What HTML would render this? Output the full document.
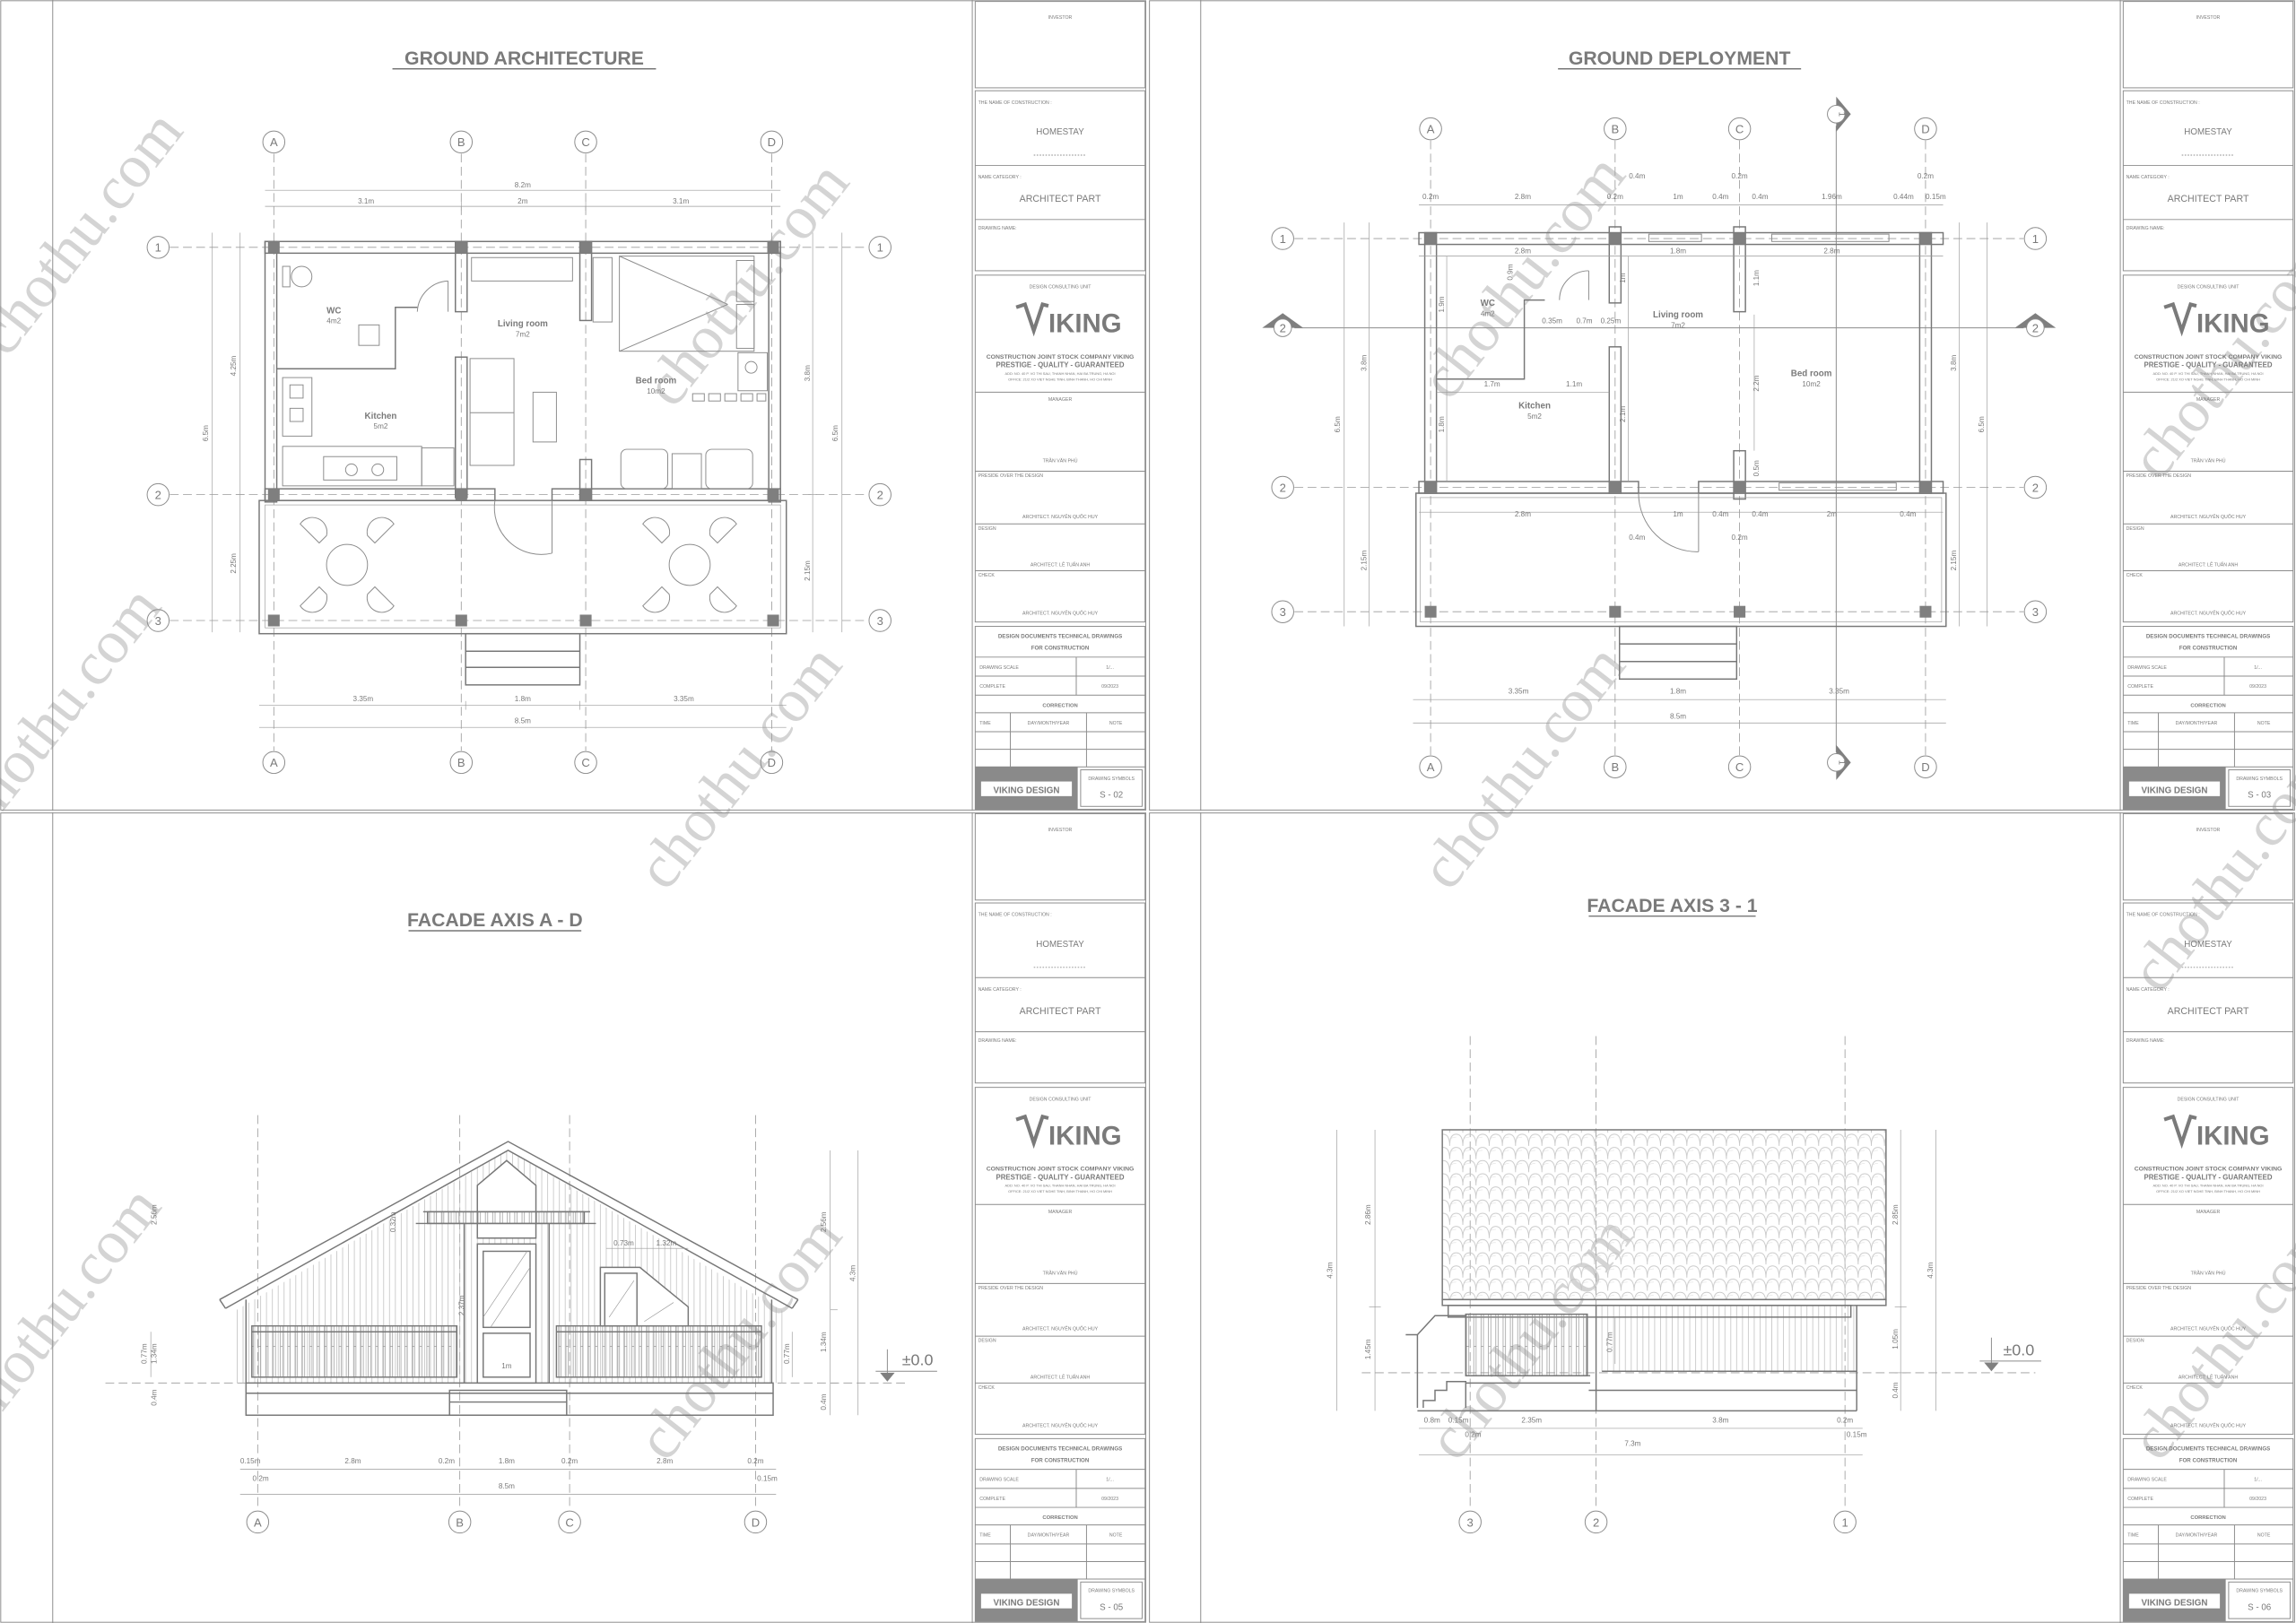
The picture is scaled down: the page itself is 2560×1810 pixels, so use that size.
<!DOCTYPE html>
<html><head><meta charset="utf-8">
<style>
html,body{margin:0;padding:0;background:#fff;}
svg{display:block;}
text{font-family:"Liberation Sans","Noto Sans CJK SC",sans-serif;fill:#7a7a7a;}
.l{stroke:#8c8c8c;stroke-width:.6;fill:none;}
.t{stroke:#9a9a9a;stroke-width:.4;fill:none;}
.k{stroke:#777;stroke-width:.9;fill:none;}
.d{stroke:#9a9a9a;stroke-width:.5;fill:none;stroke-dasharray:6 3;}
.c{fill:#7f7f7f;}
.m{text-anchor:middle;}
.dim{font-size:5px;text-anchor:middle;}
.wm text{font-family:"Liberation Serif",serif;font-size:42px;fill:#d4d4d4;}
.tb{font-size:3.2px;}
</style></head><body>
<svg width="2560" height="1810" viewBox="0 0 1568 1109" preserveAspectRatio="none" xmlns="http://www.w3.org/2000/svg">
<defs>
<pattern id="sid" width="4" height="10" patternUnits="userSpaceOnUse"><line x1="2" y1="0" x2="2" y2="10" stroke="#b5b5b5" stroke-width=".4"/></pattern>
<pattern id="bal" width="5" height="40" patternUnits="userSpaceOnUse"><rect x="1.5" y="0" width="1.6" height="40" fill="none" stroke="#8c8c8c" stroke-width=".4"/></pattern>
<pattern id="tile" width="9" height="9" patternUnits="userSpaceOnUse"><path d="M0 9 Q0 1 4.5 1 Q9 1 9 9" fill="none" stroke="#c4c4c4" stroke-width=".5"/><path d="M0 6 Q0 3 4.5 3" fill="none" stroke="#d8d8d8" stroke-width=".3"/></pattern>
</defs>
<rect width="1568" height="1109" fill="#fff"/>

<!-- watermarks (behind) -->
<g class="wm">
<text transform="translate(5,245) rotate(-52)">chothu.com</text>
<text transform="translate(460,280) rotate(-52)">chothu.com</text>
<text transform="translate(-10,570) rotate(-52)">chothu.com</text>
<text transform="translate(455,610) rotate(-52)">chothu.com</text>
<text transform="translate(990,275) rotate(-52)">chothu.com</text>
<text transform="translate(990,610) rotate(-52)">chothu.com</text>
<text transform="translate(1475,330) rotate(-52)">chothu.com</text>
<text transform="translate(-10,980) rotate(-52)">chothu.com</text>
<text transform="translate(455,1000) rotate(-52)">chothu.com</text>
<text transform="translate(995,1000) rotate(-52)">chothu.com</text>
<text transform="translate(1475,680) rotate(-52)">chothu.com</text>
<text transform="translate(1475,1000) rotate(-52)">chothu.com</text>
</g>

<!-- sheet frames -->
<g class="l">
<rect x="0.5" y="0.5" width="782" height="553"/>
<rect x="785" y="0.5" width="782" height="553"/>
<rect x="0.5" y="555.5" width="782" height="553"/>
<rect x="785" y="555.5" width="782" height="553"/>
<line x1="36" y1="0" x2="36" y2="554"/><line x1="820" y1="0" x2="820" y2="554"/>
<line x1="36" y1="555" x2="36" y2="1109"/><line x1="820" y1="555" x2="820" y2="1109"/>
<line x1="664" y1="0" x2="664" y2="554"/><line x1="1448" y1="0" x2="1448" y2="554"/>
<line x1="664" y1="555" x2="664" y2="1109"/><line x1="1448" y1="555" x2="1448" y2="1109"/>
</g>

<!-- ========== TITLE BLOCKS ========== -->
<g id="tb1">
<g class="l"><rect x="666" y="1" width="116" height="59"/><rect x="666" y="62" width="116" height="123"/><line x1="666" y1="113" x2="782" y2="113"/><line x1="666" y1="150" x2="782" y2="150"/>
<rect x="666" y="188" width="116" height="237"/><line x1="666" y1="268" x2="782" y2="268"/><line x1="666" y1="322" x2="782" y2="322"/><line x1="666" y1="358" x2="782" y2="358"/><line x1="666" y1="390" x2="782" y2="390"/>
<rect x="666" y="428" width="116" height="125"/><line x1="666" y1="449" x2="782" y2="449"/><line x1="666" y1="462" x2="782" y2="462"/><line x1="666" y1="475" x2="782" y2="475"/><line x1="666" y1="487" x2="782" y2="487"/><line x1="666" y1="500" x2="782" y2="500"/><line x1="666" y1="512" x2="782" y2="512"/><line x1="666" y1="524" x2="782" y2="524"/><line x1="735" y1="449" x2="735" y2="475"/><line x1="690" y1="487" x2="690" y2="524"/><line x1="742" y1="487" x2="742" y2="524"/><rect x="738" y="526" width="42" height="25"/><line x1="706" y1="106" x2="742" y2="106" stroke-dasharray="1 1"/></g>
<rect x="666" y="524" width="70" height="29" fill="#8a8a8a"/><rect x="670" y="534" width="62" height="10" fill="#fff"/>
<text x="724" y="13" class="m tb">INVESTOR</text>
<text x="668" y="71" class="tb">THE NAME OF CONSTRUCTION :</text>
<text x="724" y="92" class="m" style="font-size:6px">HOMESTAY</text>
<text x="668" y="122" class="tb">NAME CATEGORY :</text>
<text x="724" y="138" class="m" style="font-size:6.5px">ARCHITECT PART</text>
<text x="668" y="157" class="tb">DRAWING NAME:</text>
<text x="724" y="197" class="m tb">DESIGN CONSULTING UNIT</text>
<path d="M694 210 L700 208 L706 226 L712 208 L716 209" fill="none" stroke="#7a7a7a" stroke-width="2.5"/>
<text x="716" y="227" style="font-size:18px;font-weight:bold;fill:#7a7a7a">IKING</text>
<text x="724" y="245" class="m" style="font-size:4.2px;font-weight:bold">CONSTRUCTION JOINT STOCK COMPANY VIKING</text>
<text x="724" y="251" class="m" style="font-size:4.8px;font-weight:bold">PRESTIGE - QUALITY - GUARANTEED</text>
<text x="724" y="256" class="m" style="font-size:2.4px">ADD: NO. 40 P. VO THI SAU, THANH NHAN, HAI BA TRUNG, HA NOI</text>
<text x="724" y="260" class="m" style="font-size:2.4px">OFFICE: 21/2 XO VIET NGHE TINH, BINH THANH, HO CHI MINH</text>
<text x="724" y="274" class="m tb">MANAGER</text>
<text x="724" y="316" class="m tb">TRẦN VĂN PHÚ</text>
<text x="668" y="326" class="tb">PRESIDE OVER THE DESIGN</text>
<text x="724" y="354" class="m tb">ARCHITECT. NGUYỄN QUỐC HUY</text>
<text x="668" y="362" class="tb">DESIGN</text>
<text x="724" y="387" class="m tb">ARCHITECT: LÊ TUẤN ANH</text>
<text x="668" y="394" class="tb">CHECK</text>
<text x="724" y="420" class="m tb">ARCHITECT. NGUYỄN QUỐC HUY</text>
<text x="724" y="436" class="m" style="font-size:3.8px;font-weight:bold">DESIGN DOCUMENTS TECHNICAL DRAWINGS</text>
<text x="724" y="444" class="m" style="font-size:3.8px;font-weight:bold">FOR CONSTRUCTION</text>
<text x="669" y="457" class="tb">DRAWING SCALE</text><text x="758" y="457" class="m tb">1/...</text>
<text x="669" y="470" class="tb">COMPLETE</text><text x="758" y="470" class="m tb">09/2023</text>
<text x="724" y="483" class="m" style="font-size:3.6px;font-weight:bold">CORRECTION</text>
<text x="669" y="495" class="tb">TIME</text><text x="716" y="495" class="m tb">DAY/MONTH/YEAR</text><text x="762" y="495" class="m tb">NOTE</text>
<text x="701" y="542" class="m" style="font-size:6px;font-weight:bold">VIKING DESIGN</text>
<text x="759" y="533" class="m tb">DRAWING SYMBOLS</text>
<text x="759" y="545" class="m" style="font-size:6px">S - 02</text>
</g>

<g transform="translate(784,0)">
<g class="l"><rect x="666" y="1" width="116" height="59"/><rect x="666" y="62" width="116" height="123"/><line x1="666" y1="113" x2="782" y2="113"/><line x1="666" y1="150" x2="782" y2="150"/>
<rect x="666" y="188" width="116" height="237"/><line x1="666" y1="268" x2="782" y2="268"/><line x1="666" y1="322" x2="782" y2="322"/><line x1="666" y1="358" x2="782" y2="358"/><line x1="666" y1="390" x2="782" y2="390"/>
<rect x="666" y="428" width="116" height="125"/><line x1="666" y1="449" x2="782" y2="449"/><line x1="666" y1="462" x2="782" y2="462"/><line x1="666" y1="475" x2="782" y2="475"/><line x1="666" y1="487" x2="782" y2="487"/><line x1="666" y1="500" x2="782" y2="500"/><line x1="666" y1="512" x2="782" y2="512"/><line x1="666" y1="524" x2="782" y2="524"/><line x1="735" y1="449" x2="735" y2="475"/><line x1="690" y1="487" x2="690" y2="524"/><line x1="742" y1="487" x2="742" y2="524"/><rect x="738" y="526" width="42" height="25"/><line x1="706" y1="106" x2="742" y2="106" stroke-dasharray="1 1"/></g>
<rect x="666" y="524" width="70" height="29" fill="#8a8a8a"/><rect x="670" y="534" width="62" height="10" fill="#fff"/>
<text x="724" y="13" class="m tb">INVESTOR</text>
<text x="668" y="71" class="tb">THE NAME OF CONSTRUCTION :</text>
<text x="724" y="92" class="m" style="font-size:6px">HOMESTAY</text>
<text x="668" y="122" class="tb">NAME CATEGORY :</text>
<text x="724" y="138" class="m" style="font-size:6.5px">ARCHITECT PART</text>
<text x="668" y="157" class="tb">DRAWING NAME:</text>
<text x="724" y="197" class="m tb">DESIGN CONSULTING UNIT</text>
<path d="M694 210 L700 208 L706 226 L712 208 L716 209" fill="none" stroke="#7a7a7a" stroke-width="2.5"/>
<text x="716" y="227" style="font-size:18px;font-weight:bold;fill:#7a7a7a">IKING</text>
<text x="724" y="245" class="m" style="font-size:4.2px;font-weight:bold">CONSTRUCTION JOINT STOCK COMPANY VIKING</text>
<text x="724" y="251" class="m" style="font-size:4.8px;font-weight:bold">PRESTIGE - QUALITY - GUARANTEED</text>
<text x="724" y="256" class="m" style="font-size:2.4px">ADD: NO. 40 P. VO THI SAU, THANH NHAN, HAI BA TRUNG, HA NOI</text>
<text x="724" y="260" class="m" style="font-size:2.4px">OFFICE: 21/2 XO VIET NGHE TINH, BINH THANH, HO CHI MINH</text>
<text x="724" y="274" class="m tb">MANAGER</text>
<text x="724" y="316" class="m tb">TRẦN VĂN PHÚ</text>
<text x="668" y="326" class="tb">PRESIDE OVER THE DESIGN</text>
<text x="724" y="354" class="m tb">ARCHITECT. NGUYỄN QUỐC HUY</text>
<text x="668" y="362" class="tb">DESIGN</text>
<text x="724" y="387" class="m tb">ARCHITECT: LÊ TUẤN ANH</text>
<text x="668" y="394" class="tb">CHECK</text>
<text x="724" y="420" class="m tb">ARCHITECT. NGUYỄN QUỐC HUY</text>
<text x="724" y="436" class="m" style="font-size:3.8px;font-weight:bold">DESIGN DOCUMENTS TECHNICAL DRAWINGS</text>
<text x="724" y="444" class="m" style="font-size:3.8px;font-weight:bold">FOR CONSTRUCTION</text>
<text x="669" y="457" class="tb">DRAWING SCALE</text><text x="758" y="457" class="m tb">1/...</text>
<text x="669" y="470" class="tb">COMPLETE</text><text x="758" y="470" class="m tb">09/2023</text>
<text x="724" y="483" class="m" style="font-size:3.6px;font-weight:bold">CORRECTION</text>
<text x="669" y="495" class="tb">TIME</text><text x="716" y="495" class="m tb">DAY/MONTH/YEAR</text><text x="762" y="495" class="m tb">NOTE</text>
<text x="701" y="542" class="m" style="font-size:6px;font-weight:bold">VIKING DESIGN</text>
<text x="759" y="533" class="m tb">DRAWING SYMBOLS</text>
<text x="759" y="545" class="m" style="font-size:6px">S - 03</text>
</g>

<g transform="translate(0,555)">
<g class="l"><rect x="666" y="1" width="116" height="59"/><rect x="666" y="62" width="116" height="123"/><line x1="666" y1="113" x2="782" y2="113"/><line x1="666" y1="150" x2="782" y2="150"/>
<rect x="666" y="188" width="116" height="237"/><line x1="666" y1="268" x2="782" y2="268"/><line x1="666" y1="322" x2="782" y2="322"/><line x1="666" y1="358" x2="782" y2="358"/><line x1="666" y1="390" x2="782" y2="390"/>
<rect x="666" y="428" width="116" height="125"/><line x1="666" y1="449" x2="782" y2="449"/><line x1="666" y1="462" x2="782" y2="462"/><line x1="666" y1="475" x2="782" y2="475"/><line x1="666" y1="487" x2="782" y2="487"/><line x1="666" y1="500" x2="782" y2="500"/><line x1="666" y1="512" x2="782" y2="512"/><line x1="666" y1="524" x2="782" y2="524"/><line x1="735" y1="449" x2="735" y2="475"/><line x1="690" y1="487" x2="690" y2="524"/><line x1="742" y1="487" x2="742" y2="524"/><rect x="738" y="526" width="42" height="25"/><line x1="706" y1="106" x2="742" y2="106" stroke-dasharray="1 1"/></g>
<rect x="666" y="524" width="70" height="29" fill="#8a8a8a"/><rect x="670" y="534" width="62" height="10" fill="#fff"/>
<text x="724" y="13" class="m tb">INVESTOR</text>
<text x="668" y="71" class="tb">THE NAME OF CONSTRUCTION :</text>
<text x="724" y="92" class="m" style="font-size:6px">HOMESTAY</text>
<text x="668" y="122" class="tb">NAME CATEGORY :</text>
<text x="724" y="138" class="m" style="font-size:6.5px">ARCHITECT PART</text>
<text x="668" y="157" class="tb">DRAWING NAME:</text>
<text x="724" y="197" class="m tb">DESIGN CONSULTING UNIT</text>
<path d="M694 210 L700 208 L706 226 L712 208 L716 209" fill="none" stroke="#7a7a7a" stroke-width="2.5"/>
<text x="716" y="227" style="font-size:18px;font-weight:bold;fill:#7a7a7a">IKING</text>
<text x="724" y="245" class="m" style="font-size:4.2px;font-weight:bold">CONSTRUCTION JOINT STOCK COMPANY VIKING</text>
<text x="724" y="251" class="m" style="font-size:4.8px;font-weight:bold">PRESTIGE - QUALITY - GUARANTEED</text>
<text x="724" y="256" class="m" style="font-size:2.4px">ADD: NO. 40 P. VO THI SAU, THANH NHAN, HAI BA TRUNG, HA NOI</text>
<text x="724" y="260" class="m" style="font-size:2.4px">OFFICE: 21/2 XO VIET NGHE TINH, BINH THANH, HO CHI MINH</text>
<text x="724" y="274" class="m tb">MANAGER</text>
<text x="724" y="316" class="m tb">TRẦN VĂN PHÚ</text>
<text x="668" y="326" class="tb">PRESIDE OVER THE DESIGN</text>
<text x="724" y="354" class="m tb">ARCHITECT. NGUYỄN QUỐC HUY</text>
<text x="668" y="362" class="tb">DESIGN</text>
<text x="724" y="387" class="m tb">ARCHITECT: LÊ TUẤN ANH</text>
<text x="668" y="394" class="tb">CHECK</text>
<text x="724" y="420" class="m tb">ARCHITECT. NGUYỄN QUỐC HUY</text>
<text x="724" y="436" class="m" style="font-size:3.8px;font-weight:bold">DESIGN DOCUMENTS TECHNICAL DRAWINGS</text>
<text x="724" y="444" class="m" style="font-size:3.8px;font-weight:bold">FOR CONSTRUCTION</text>
<text x="669" y="457" class="tb">DRAWING SCALE</text><text x="758" y="457" class="m tb">1/...</text>
<text x="669" y="470" class="tb">COMPLETE</text><text x="758" y="470" class="m tb">09/2023</text>
<text x="724" y="483" class="m" style="font-size:3.6px;font-weight:bold">CORRECTION</text>
<text x="669" y="495" class="tb">TIME</text><text x="716" y="495" class="m tb">DAY/MONTH/YEAR</text><text x="762" y="495" class="m tb">NOTE</text>
<text x="701" y="542" class="m" style="font-size:6px;font-weight:bold">VIKING DESIGN</text>
<text x="759" y="533" class="m tb">DRAWING SYMBOLS</text>
<text x="759" y="545" class="m" style="font-size:6px">S - 05</text>
</g>

<g transform="translate(784,555)">
<g class="l"><rect x="666" y="1" width="116" height="59"/><rect x="666" y="62" width="116" height="123"/><line x1="666" y1="113" x2="782" y2="113"/><line x1="666" y1="150" x2="782" y2="150"/>
<rect x="666" y="188" width="116" height="237"/><line x1="666" y1="268" x2="782" y2="268"/><line x1="666" y1="322" x2="782" y2="322"/><line x1="666" y1="358" x2="782" y2="358"/><line x1="666" y1="390" x2="782" y2="390"/>
<rect x="666" y="428" width="116" height="125"/><line x1="666" y1="449" x2="782" y2="449"/><line x1="666" y1="462" x2="782" y2="462"/><line x1="666" y1="475" x2="782" y2="475"/><line x1="666" y1="487" x2="782" y2="487"/><line x1="666" y1="500" x2="782" y2="500"/><line x1="666" y1="512" x2="782" y2="512"/><line x1="666" y1="524" x2="782" y2="524"/><line x1="735" y1="449" x2="735" y2="475"/><line x1="690" y1="487" x2="690" y2="524"/><line x1="742" y1="487" x2="742" y2="524"/><rect x="738" y="526" width="42" height="25"/><line x1="706" y1="106" x2="742" y2="106" stroke-dasharray="1 1"/></g>
<rect x="666" y="524" width="70" height="29" fill="#8a8a8a"/><rect x="670" y="534" width="62" height="10" fill="#fff"/>
<text x="724" y="13" class="m tb">INVESTOR</text>
<text x="668" y="71" class="tb">THE NAME OF CONSTRUCTION :</text>
<text x="724" y="92" class="m" style="font-size:6px">HOMESTAY</text>
<text x="668" y="122" class="tb">NAME CATEGORY :</text>
<text x="724" y="138" class="m" style="font-size:6.5px">ARCHITECT PART</text>
<text x="668" y="157" class="tb">DRAWING NAME:</text>
<text x="724" y="197" class="m tb">DESIGN CONSULTING UNIT</text>
<path d="M694 210 L700 208 L706 226 L712 208 L716 209" fill="none" stroke="#7a7a7a" stroke-width="2.5"/>
<text x="716" y="227" style="font-size:18px;font-weight:bold;fill:#7a7a7a">IKING</text>
<text x="724" y="245" class="m" style="font-size:4.2px;font-weight:bold">CONSTRUCTION JOINT STOCK COMPANY VIKING</text>
<text x="724" y="251" class="m" style="font-size:4.8px;font-weight:bold">PRESTIGE - QUALITY - GUARANTEED</text>
<text x="724" y="256" class="m" style="font-size:2.4px">ADD: NO. 40 P. VO THI SAU, THANH NHAN, HAI BA TRUNG, HA NOI</text>
<text x="724" y="260" class="m" style="font-size:2.4px">OFFICE: 21/2 XO VIET NGHE TINH, BINH THANH, HO CHI MINH</text>
<text x="724" y="274" class="m tb">MANAGER</text>
<text x="724" y="316" class="m tb">TRẦN VĂN PHÚ</text>
<text x="668" y="326" class="tb">PRESIDE OVER THE DESIGN</text>
<text x="724" y="354" class="m tb">ARCHITECT. NGUYỄN QUỐC HUY</text>
<text x="668" y="362" class="tb">DESIGN</text>
<text x="724" y="387" class="m tb">ARCHITECT: LÊ TUẤN ANH</text>
<text x="668" y="394" class="tb">CHECK</text>
<text x="724" y="420" class="m tb">ARCHITECT. NGUYỄN QUỐC HUY</text>
<text x="724" y="436" class="m" style="font-size:3.8px;font-weight:bold">DESIGN DOCUMENTS TECHNICAL DRAWINGS</text>
<text x="724" y="444" class="m" style="font-size:3.8px;font-weight:bold">FOR CONSTRUCTION</text>
<text x="669" y="457" class="tb">DRAWING SCALE</text><text x="758" y="457" class="m tb">1/...</text>
<text x="669" y="470" class="tb">COMPLETE</text><text x="758" y="470" class="m tb">09/2023</text>
<text x="724" y="483" class="m" style="font-size:3.6px;font-weight:bold">CORRECTION</text>
<text x="669" y="495" class="tb">TIME</text><text x="716" y="495" class="m tb">DAY/MONTH/YEAR</text><text x="762" y="495" class="m tb">NOTE</text>
<text x="701" y="542" class="m" style="font-size:6px;font-weight:bold">VIKING DESIGN</text>
<text x="759" y="533" class="m tb">DRAWING SYMBOLS</text>
<text x="759" y="545" class="m" style="font-size:6px">S - 06</text>
</g>

<!-- ========== GROUND ARCHITECTURE ========== -->
<text x="358" y="44" class="m" style="font-size:13px;font-weight:bold">GROUND ARCHITECTURE</text>
<line x1="268" y1="47" x2="448" y2="47" class="k"/>
<g class="d">
<line x1="187" y1="105" x2="187" y2="513"/><line x1="315" y1="105" x2="315" y2="513"/><line x1="400" y1="105" x2="400" y2="513"/><line x1="527" y1="105" x2="527" y2="513"/>
<line x1="116" y1="169" x2="593" y2="169"/><line x1="116" y1="338" x2="593" y2="338"/><line x1="116" y1="424" x2="593" y2="424"/>
</g>
<g class="l">
<circle cx="187" cy="97" r="7.5"/><circle cx="315" cy="97" r="7.5"/><circle cx="400" cy="97" r="7.5"/><circle cx="527" cy="97" r="7.5"/>
<circle cx="187" cy="521" r="7.5"/><circle cx="315" cy="521" r="7.5"/><circle cx="400" cy="521" r="7.5"/><circle cx="527" cy="521" r="7.5"/>
<circle cx="108" cy="169" r="7.5"/><circle cx="108" cy="338" r="7.5"/><circle cx="108" cy="424" r="7.5"/>
<circle cx="601" cy="169" r="7.5"/><circle cx="601" cy="338" r="7.5"/><circle cx="601" cy="424" r="7.5"/>
</g>
<g style="font-size:8px" class="m">
<text x="187" y="100">A</text><text x="315" y="100">B</text><text x="400" y="100">C</text><text x="527" y="100">D</text>
<text x="187" y="524">A</text><text x="315" y="524">B</text><text x="400" y="524">C</text><text x="527" y="524">D</text>
<text x="108" y="172">1</text><text x="108" y="341">2</text><text x="108" y="427">3</text>
<text x="601" y="172">1</text><text x="601" y="341">2</text><text x="601" y="427">3</text>
</g>
<g class="t">
<line x1="181" y1="130" x2="533" y2="130"/><line x1="181" y1="141" x2="533" y2="141"/>
<line x1="177" y1="482" x2="537" y2="482"/><line x1="177" y1="497" x2="537" y2="497"/>
<line x1="145" y1="159" x2="145" y2="432"/><line x1="164" y1="159" x2="164" y2="432"/>
<line x1="555" y1="159" x2="555" y2="432"/><line x1="575" y1="159" x2="575" y2="432"/>
<line x1="315" y1="138" x2="315" y2="144"/><line x1="400" y1="138" x2="400" y2="144"/>
<line x1="318" y1="479" x2="318" y2="485"/><line x1="396" y1="479" x2="396" y2="485"/>
<line x1="161" y1="338" x2="167" y2="338"/><line x1="552" y1="338" x2="558" y2="338"/>
</g>
<g class="dim">
<text x="357" y="128">8.2m</text><text x="250" y="139">3.1m</text><text x="357" y="139">2m</text><text x="465" y="139">3.1m</text>
<text x="248" y="479">3.35m</text><text x="357" y="479">1.8m</text><text x="467" y="479">3.35m</text><text x="357" y="494">8.5m</text>
<text transform="translate(142,296) rotate(-90)">6.5m</text><text transform="translate(161,250) rotate(-90)">4.25m</text><text transform="translate(161,385) rotate(-90)">2.25m</text>
<text transform="translate(572,296) rotate(-90)">6.5m</text><text transform="translate(553,255) rotate(-90)">3.8m</text><text transform="translate(553,390) rotate(-90)">2.15m</text>
</g>
<g class="k">
<rect x="181" y="165" width="352" height="8"/>
<rect x="181" y="165" width="8" height="178"/><rect x="525" y="165" width="8" height="178"/>
<rect x="181" y="334" width="157" height="8"/><rect x="377" y="334" width="156" height="8"/>
<rect x="311" y="165" width="8" height="48"/><rect x="311" y="244" width="8" height="96"/>
<rect x="396" y="165" width="8" height="54"/><rect x="396" y="314" width="8" height="28"/>
<rect x="177" y="342" width="360" height="91"/><rect x="181" y="345" width="352" height="84" class="t"/>
<path d="M189 252 L270 252 L270 210 L285 210" />
<rect x="318" y="433" width="78" height="35"/><line x1="318" y1="445" x2="396" y2="445"/><line x1="318" y1="456" x2="396" y2="456"/>
</g>
<g class="c">
<rect x="183" y="165" width="8" height="8"/><rect x="311" y="165" width="8" height="8"/><rect x="396" y="165" width="8" height="8"/><rect x="524" y="165" width="8" height="8"/>
<rect x="183" y="334" width="8" height="8"/><rect x="311" y="334" width="8" height="8"/><rect x="396" y="334" width="8" height="8"/><rect x="524" y="334" width="8" height="8"/>
<rect x="183" y="420" width="8" height="8"/><rect x="311" y="420" width="8" height="8"/><rect x="396" y="420" width="8" height="8"/><rect x="524" y="420" width="8" height="8"/>
</g>
<g class="l">
<ellipse cx="206" cy="189" rx="7" ry="7"/><rect x="193" y="182" width="5" height="14"/>
<path d="M285 213 A22 22 0 0 1 306 192"/><line x1="306" y1="192" x2="306" y2="213"/>
<rect x="245" y="222" width="14" height="14"/>
<rect x="193" y="258" width="20" height="40"/><rect x="198" y="263" width="9" height="9"/><rect x="198" y="279" width="9" height="9"/>
<rect x="193" y="305" width="95" height="27"/><rect x="221" y="312" width="50" height="16"/><circle cx="240" cy="321" r="4"/><circle cx="258" cy="321" r="4"/>
<rect x="288" y="306" width="22" height="26"/>
<rect x="322" y="176" width="69" height="16"/>
<rect x="321" y="245" width="30" height="73"/><line x1="321" y1="282" x2="351" y2="282"/>
<rect x="364" y="268" width="16" height="34"/>
<rect x="405" y="176" width="13" height="44"/>
<rect x="423" y="175" width="92" height="65"/><line x1="423" y1="175" x2="497" y2="208"/><line x1="423" y1="240" x2="497" y2="208"/>
<rect x="503" y="178" width="12" height="28"/><rect x="503" y="208" width="12" height="30"/>
<rect x="504" y="241" width="20" height="26"/><circle cx="513" cy="251" r="4"/>
<rect x="473" y="269" width="8" height="5"/><rect x="484" y="269" width="8" height="5"/><rect x="495" y="269" width="8" height="5"/><rect x="506" y="269" width="8" height="5"/><rect x="517" y="269" width="6" height="5"/>
<rect x="424" y="307" width="32" height="27" rx="4"/><rect x="459" y="310" width="20" height="24"/><rect x="482" y="307" width="32" height="27" rx="4"/>
<path d="M338 342 A32 32 0 0 0 377 378"/><line x1="377" y1="342" x2="377" y2="378"/>
<circle cx="237" cy="386" r="14"/><circle cx="471" cy="386" r="14"/>
<path d="M205 358 a10 10 0 0 1 18 8 l-5 5 -13 -13z"/><path d="M269 358 a10 10 0 0 0 -18 8 l5 5 13 -13z"/>
<path d="M205 414 a10 10 0 0 0 18 -8 l-5 -5 -13 13z"/><path d="M269 414 a10 10 0 0 1 -18 -8 l5 -5 13 13z"/>
<path d="M439 358 a10 10 0 0 1 18 8 l-5 5 -13 -13z"/><path d="M503 358 a10 10 0 0 0 -18 8 l5 5 13 -13z"/>
<path d="M439 414 a10 10 0 0 0 18 -8 l-5 -5 -13 13z"/><path d="M503 414 a10 10 0 0 1 -18 -8 l5 -5 13 13z"/>
</g>
<g style="font-size:6px;font-weight:bold" class="m">
<text x="228" y="214">WC</text><text x="357" y="223">Living room</text><text x="260" y="286">Kitchen</text><text x="448" y="262">Bed room</text>
</g>
<g style="font-size:5px" class="m">
<text x="228" y="221">4m2</text><text x="357" y="230">7m2</text><text x="260" y="293">5m2</text><text x="448" y="269">10m2</text>
</g>

<!-- ========== GROUND DEPLOYMENT ========== -->
<text x="1147" y="44" class="m" style="font-size:13px;font-weight:bold">GROUND DEPLOYMENT</text>
<line x1="1064" y1="47" x2="1230" y2="47" class="k"/>
<g class="d">
<line x1="977" y1="96" x2="977" y2="516"/><line x1="1103" y1="96" x2="1103" y2="516"/><line x1="1188" y1="96" x2="1188" y2="516"/><line x1="1315" y1="96" x2="1315" y2="516"/>
<line x1="884" y1="163" x2="1382" y2="163"/><line x1="884" y1="333" x2="1382" y2="333"/><line x1="884" y1="418" x2="1382" y2="418"/>
</g>
<line x1="884" y1="224" x2="1382" y2="224" class="l"/>
<line x1="1254" y1="86" x2="1254" y2="514" class="l"/>
<g class="l">
<circle cx="977" cy="88" r="7.5"/><circle cx="1103" cy="88" r="7.5"/><circle cx="1188" cy="88" r="7.5"/><circle cx="1315" cy="88" r="7.5"/>
<circle cx="977" cy="524" r="7.5"/><circle cx="1103" cy="524" r="7.5"/><circle cx="1188" cy="524" r="7.5"/><circle cx="1315" cy="524" r="7.5"/>
<circle cx="876" cy="163" r="7.5"/><circle cx="876" cy="333" r="7.5"/><circle cx="876" cy="418" r="7.5"/>
<circle cx="1390" cy="163" r="7.5"/><circle cx="1390" cy="333" r="7.5"/><circle cx="1390" cy="418" r="7.5"/>
</g>
<path d="M1254 66 L1264 78 L1254 90 Z" class="c"/><path d="M1254 509 L1264 521 L1254 533 Z" class="c"/>
<path d="M862 224 L876 214 L890 224 Z" class="c"/><path d="M1376 224 L1390 214 L1404 224 Z" class="c"/>
<g fill="#fff" class="l" style="fill:#fff"><circle cx="1254" cy="78" r="6"/><circle cx="1254" cy="521" r="6"/><circle cx="876" cy="224" r="6"/><circle cx="1390" cy="224" r="6"/></g>
<g style="font-size:8px" class="m">
<text x="977" y="91">A</text><text x="1103" y="91">B</text><text x="1188" y="91">C</text><text x="1315" y="91">D</text>
<text x="977" y="527">A</text><text x="1103" y="527">B</text><text x="1188" y="527">C</text><text x="1315" y="527">D</text>
<text x="876" y="166">1</text><text x="876" y="336">2</text><text x="876" y="421">3</text>
<text x="1390" y="166">1</text><text x="1390" y="336">2</text><text x="1390" y="421">3</text>
<text x="876" y="227">2</text><text x="1390" y="227">2</text>
</g>
<g style="font-size:6px" class="m"><text transform="translate(1256,78) rotate(90)">1</text><text transform="translate(1256,521) rotate(90)">1</text></g>
<g class="k">
<rect x="969" y="159" width="358" height="8"/>
<rect x="973" y="159" width="8" height="178"/><rect x="1311" y="159" width="8" height="178"/>
<rect x="969" y="329" width="150" height="8"/><rect x="1160" y="329" width="167" height="8"/>
<rect x="1099" y="155" width="8" height="52"/><rect x="1099" y="237" width="8" height="100"/>
<rect x="1184" y="155" width="8" height="58"/><rect x="1184" y="308" width="8" height="33"/>
<rect x="967" y="337" width="362" height="91"/>
<path d="M981 259 L1041 259 L1041 205 L1055 205"/>
<rect x="1106" y="428" width="80" height="36"/><line x1="1106" y1="440" x2="1186" y2="440"/><line x1="1106" y1="452" x2="1186" y2="452"/>
</g>
<g class="t"><rect x="970" y="340" width="356" height="85"/></g>
<g class="l">
<path d="M1065 205 A20 20 0 0 1 1085 185"/><line x1="1085" y1="185" x2="1085" y2="205"/>
<path d="M1119 337 A40 40 0 0 0 1160 377"/><line x1="1160" y1="337" x2="1160" y2="377"/>
<rect x="1126" y="160" width="36" height="5"/><rect x="1210" y="160" width="80" height="5"/><rect x="1215" y="330" width="80" height="5"/>
</g>
<g class="c">
<rect x="973" y="159" width="8" height="8"/><rect x="1099" y="159" width="8" height="8"/><rect x="1184" y="159" width="8" height="8"/><rect x="1311" y="159" width="8" height="8"/>
<rect x="973" y="329" width="8" height="8"/><rect x="1099" y="329" width="8" height="8"/><rect x="1184" y="329" width="8" height="8"/><rect x="1311" y="329" width="8" height="8"/>
<rect x="973" y="414" width="8" height="8"/><rect x="1099" y="414" width="8" height="8"/><rect x="1184" y="414" width="8" height="8"/><rect x="1311" y="414" width="8" height="8"/>
</g>
<g class="t">
<line x1="969" y1="140" x2="1327" y2="140"/><line x1="969" y1="175" x2="1327" y2="175"/><line x1="969" y1="350" x2="1327" y2="350"/>
<line x1="965" y1="478" x2="1329" y2="478"/><line x1="965" y1="494" x2="1329" y2="494"/>
<line x1="918" y1="152" x2="918" y2="428"/><line x1="935" y1="152" x2="935" y2="428"/><line x1="1357" y1="152" x2="1357" y2="428"/><line x1="1338" y1="152" x2="1338" y2="428"/>
<line x1="988" y1="175" x2="988" y2="329"/><line x1="1112" y1="175" x2="1112" y2="329"/><line x1="1198" y1="215" x2="1198" y2="308"/>
<line x1="981" y1="268" x2="1099" y2="268"/>
</g>
<g class="dim">
<text x="1040" y="136">2.8m</text><text x="1146" y="136">1m</text><text x="1175" y="136">0.4m</text><text x="1202" y="136">0.4m</text><text x="1251" y="136">1.96m</text><text x="1300" y="136">0.44m</text><text x="1322" y="136">0.15m</text>
<text x="977" y="136">0.2m</text><text x="1103" y="136">0.2m</text><text x="1118" y="122">0.4m</text><text x="1188" y="122">0.2m</text><text x="1315" y="122">0.2m</text>
<text x="1040" y="173">2.8m</text><text x="1146" y="173">1.8m</text><text x="1251" y="173">2.8m</text>
<text x="1040" y="353">2.8m</text><text x="1146" y="353">1m</text><text x="1175" y="353">0.4m</text><text x="1202" y="353">0.4m</text><text x="1251" y="353">2m</text><text x="1303" y="353">0.4m</text>
<text x="1118" y="369">0.4m</text><text x="1188" y="369">0.2m</text><text x="1060" y="221">0.35m</text><text x="1082" y="221">0.7m</text><text x="1100" y="221">0.25m</text>
<text x="1019" y="264">1.7m</text><text x="1075" y="264">1.1m</text>
<text x="1037" y="474">3.35m</text><text x="1146" y="474">1.8m</text><text x="1256" y="474">3.35m</text><text x="1146" y="491">8.5m</text>
<text transform="translate(915,290) rotate(-90)">6.5m</text><text transform="translate(933,248) rotate(-90)">3.8m</text><text transform="translate(933,383) rotate(-90)">2.15m</text>
<text transform="translate(1355,290) rotate(-90)">6.5m</text><text transform="translate(1336,248) rotate(-90)">3.8m</text><text transform="translate(1336,383) rotate(-90)">2.15m</text>
<text transform="translate(986,208) rotate(-90)">1.9m</text><text transform="translate(986,290) rotate(-90)">1.8m</text><text transform="translate(1033,186) rotate(-90)">0.9m</text>
<text transform="translate(1110,190) rotate(-90)">1m</text><text transform="translate(1110,283) rotate(-90)">2.1m</text><text transform="translate(1201,190) rotate(-90)">1.1m</text><text transform="translate(1201,262) rotate(-90)">2.2m</text><text transform="translate(1201,320) rotate(-90)">0.5m</text>
</g>
<g style="font-size:6px;font-weight:bold" class="m">
<text x="1016" y="209">WC</text><text x="1146" y="217">Living room</text><text x="1048" y="279">Kitchen</text><text x="1237" y="257">Bed room</text>
</g>
<g style="font-size:5px" class="m">
<text x="1016" y="216">4m2</text><text x="1146" y="224">7m2</text><text x="1048" y="286">5m2</text><text x="1237" y="264">10m2</text>
</g>

<!-- ========== FACADE AXIS A - D ========== -->
<text x="338" y="633" class="m" style="font-size:13px;font-weight:bold">FACADE AXIS A - D</text>
<line x1="279" y1="636" x2="397" y2="636" class="k"/>
<g class="d">
<line x1="176" y1="762" x2="176" y2="1032"/><line x1="314" y1="762" x2="314" y2="1032"/><line x1="389" y1="762" x2="389" y2="1032"/><line x1="516" y1="762" x2="516" y2="1032"/>
<line x1="72" y1="945" x2="620" y2="945"/>
</g>
<polygon points="347,786 160,896 160,945 535,945 535,896" style="fill:url(#sid)"/>
<g class="k">
<polyline points="150,888 347,780 545,888"/><polyline points="154,894 347,786 541,894"/>
<line x1="150" y1="888" x2="154" y2="894"/><line x1="545" y1="888" x2="541" y2="894"/>
<line x1="168" y1="888" x2="168" y2="945"/><line x1="527" y1="888" x2="527" y2="945"/>
<rect x="168" y="945" width="360" height="22"/><line x1="168" y1="952" x2="528" y2="952"/>
<rect x="307" y="950" width="80" height="17"/><line x1="307" y1="958" x2="387" y2="958"/>
<rect x="172" y="906" width="140" height="35" style="fill:url(#bal)"/><rect x="380" y="906" width="140" height="35" style="fill:url(#bal)"/>
<line x1="172" y1="910" x2="312" y2="910"/><line x1="380" y1="910" x2="520" y2="910"/>
<rect x="326" y="850" width="40" height="95" style="fill:#fff"/><rect x="330" y="855" width="32" height="52"/><rect x="330" y="911" width="32" height="30"/>
<polygon points="326,846 326,810 346,793 366,810 366,846" style="fill:#fff"/>
<line x1="317" y1="836" x2="317" y2="945"/><line x1="375" y1="836" x2="375" y2="945"/>
<rect x="292" y="828" width="107" height="8" style="fill:url(#bal)"/><line x1="284" y1="836" x2="407" y2="836"/><line x1="289" y1="828" x2="403" y2="828"/>
<polygon points="410,906 410,866 437,866 470,893 470,906" style="fill:#fff"/><rect x="413" y="870" width="22" height="36"/>
</g>
<g class="t">
<line x1="330" y1="900" x2="360" y2="855"/><line x1="335" y1="907" x2="362" y2="866"/><line x1="416" y1="900" x2="433" y2="875"/><line x1="440" y1="903" x2="460" y2="890"/>
<line x1="586" y1="786" x2="586" y2="967"/><line x1="567" y1="786" x2="567" y2="967"/><line x1="567" y1="895" x2="572" y2="895"/><line x1="567" y1="945" x2="572" y2="945"/>
<line x1="103" y1="910" x2="103" y2="941"/><line x1="541" y1="910" x2="541" y2="941"/>
<line x1="164" y1="1004" x2="530" y2="1004"/><line x1="164" y1="1021" x2="530" y2="1021"/>
<line x1="414" y1="853" x2="470" y2="853"/>
</g>
<g class="dim">
<text x="171" y="1000">0.15m</text><text x="241" y="1000">2.8m</text><text x="305" y="1000">0.2m</text><text x="346" y="1000">1.8m</text><text x="389" y="1000">0.2m</text><text x="454" y="1000">2.8m</text><text x="516" y="1000">0.2m</text>
<text x="178" y="1012">0.2m</text><text x="524" y="1012">0.15m</text><text x="346" y="1017">8.5m</text>
<text x="346" y="935">1m</text><text x="426" y="851">0.73m</text><text x="455" y="851">1.32m</text>
<text transform="translate(100,925) rotate(-90)">0.77m</text><text transform="translate(539,925) rotate(-90)">0.77m</text>
<text transform="translate(564,835) rotate(-90)">2.56m</text><text transform="translate(564,917) rotate(-90)">1.34m</text><text transform="translate(564,958) rotate(-90)">0.4m</text>
<text transform="translate(584,870) rotate(-90)">4.3m</text><text transform="translate(317,892) rotate(-90)">2.37m</text><text transform="translate(270,835) rotate(-90)">0.32m</text>
<text transform="translate(107,925) rotate(-90)">1.34m</text><text transform="translate(107,955) rotate(-90)">0.4m</text><text transform="translate(107,830) rotate(-90)">2.56m</text>
</g>
<g class="l"><line x1="598" y1="937" x2="640" y2="937"/><line x1="606" y1="922" x2="606" y2="940"/></g>
<path d="M601 938 L606 944 L611 938 Z" class="c"/>
<text x="616" y="933" style="font-size:11px">±0.0</text>
<g class="l"><circle cx="176" cy="1040" r="7.5"/><circle cx="314" cy="1040" r="7.5"/><circle cx="389" cy="1040" r="7.5"/><circle cx="516" cy="1040" r="7.5"/></g>
<g style="font-size:8px" class="m"><text x="176" y="1043">A</text><text x="314" y="1043">B</text><text x="389" y="1043">C</text><text x="516" y="1043">D</text></g>

<!-- ========== FACADE AXIS 3 - 1 ========== -->
<text x="1142" y="623" class="m" style="font-size:13px;font-weight:bold">FACADE AXIS 3 - 1</text>
<line x1="1085" y1="626" x2="1199" y2="626" class="k"/>
<g class="d">
<line x1="1004" y1="708" x2="1004" y2="1032"/><line x1="1090" y1="708" x2="1090" y2="1032"/><line x1="1260" y1="708" x2="1260" y2="1032"/>
<line x1="930" y1="938" x2="1390" y2="938"/>
</g>
<rect x="985" y="772" width="303" height="116" class="k" style="fill:url(#tile)"/>
<rect x="985" y="888" width="303" height="4" class="k"/>
<rect x="1090" y="892" width="178" height="45" style="fill:url(#sid)"/>
<g class="k">
<rect x="989" y="892" width="275" height="8"/>
<line x1="1090" y1="892" x2="1090" y2="964"/><line x1="1268" y1="892" x2="1268" y2="964"/>
<rect x="1001" y="898" width="83" height="42" style="fill:url(#bal)"/>
<line x1="1001" y1="940" x2="1086" y2="940"/><line x1="1001" y1="945" x2="1086" y2="945"/>
<line x1="1094" y1="937" x2="1268" y2="937"/><line x1="1085" y1="950" x2="1268" y2="950"/>
<line x1="968" y1="964" x2="1268" y2="964"/>
<polyline points="960,912 968,912 980,899 1001,899"/><line x1="968" y1="912" x2="968" y2="962"/>
<polyline points="972,962 972,957 980,957 980,950 988,950 988,944 1001,944 1001,962"/>
</g>
<g class="t">
<line x1="913" y1="772" x2="913" y2="964"/><line x1="939" y1="772" x2="939" y2="964"/><line x1="1298" y1="772" x2="1298" y2="964"/><line x1="1322" y1="772" x2="1322" y2="964"/>
<line x1="935" y1="893" x2="943" y2="893"/><line x1="1294" y1="893" x2="1302" y2="893"/><line x1="1294" y1="938" x2="1302" y2="938"/>
<line x1="969" y1="976" x2="1272" y2="976"/><line x1="969" y1="994" x2="1272" y2="994"/>
<line x1="1103" y1="900" x2="1103" y2="932"/>
</g>
<g class="dim">
<text x="978" y="972">0.8m</text><text x="996" y="972">0.15m</text><text x="1046" y="972">2.35m</text><text x="1175" y="972">3.8m</text><text x="1260" y="972">0.2m</text>
<text x="1006" y="982">0.2m</text><text x="1268" y="982">0.15m</text><text x="1115" y="988">7.3m</text>
<text transform="translate(910,868) rotate(-90)">4.3m</text><text transform="translate(936,830) rotate(-90)">2.86m</text><text transform="translate(936,922) rotate(-90)">1.45m</text>
<text transform="translate(1296,830) rotate(-90)">2.85m</text><text transform="translate(1296,915) rotate(-90)">1.05m</text><text transform="translate(1296,950) rotate(-90)">0.4m</text><text transform="translate(1320,868) rotate(-90)">4.3m</text>
<text transform="translate(1101,917) rotate(-90)">0.77m</text>
</g>
<g class="l"><line x1="1352" y1="930" x2="1394" y2="930"/><line x1="1360" y1="914" x2="1360" y2="933"/></g>
<path d="M1355 931 L1360 937 L1365 931 Z" class="c"/>
<text x="1368" y="926" style="font-size:11px">±0.0</text>
<g class="l"><circle cx="1004" cy="1040" r="7.5"/><circle cx="1090" cy="1040" r="7.5"/><circle cx="1260" cy="1040" r="7.5"/></g>
<g style="font-size:8px" class="m"><text x="1004" y="1043">3</text><text x="1090" y="1043">2</text><text x="1260" y="1043">1</text></g>
</svg>
</body></html>
